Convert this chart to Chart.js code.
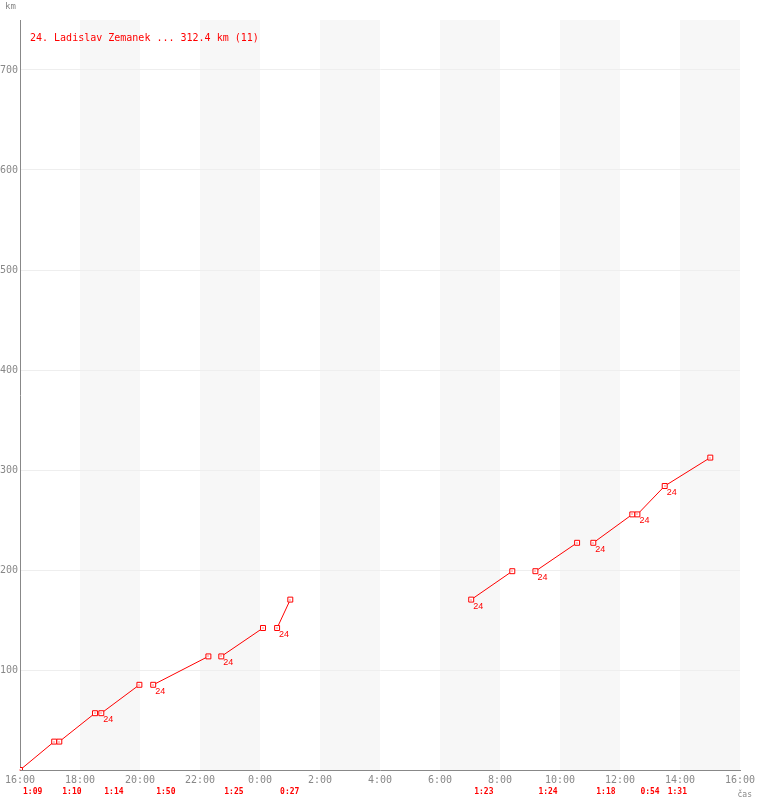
<!DOCTYPE html>
<html lang="cs">
<head>
    <meta charset="UTF-8">
    <title>24. Ladislav Zemanek</title>
    <script src="https://cdn.jsdelivr.net/npm/chart.js"></script>
    <style>
        body {
            margin: 0;
            padding: 0;
            background: #fff;
        }
        canvas {
            display: block;
        }
    </style>
</head>
<body>
    <canvas id="lapChart" width="760" height="800"></canvas>

    <script>
        // hodiny od startu (16:00)
        const lapStart = [0, 1.31, 2.71, 4.44, 6.71, 8.57, 15.04, 17.18, 19.11, 20.58, 21.49];
        const lapEnd   = [1.14, 2.5, 3.98, 6.28, 8.1, 9.01, 16.41, 18.57, 20.41, 21.49, 23.01];
        const kmStart  = [0, 28.4, 56.8, 85.2, 113.6, 142.0, 170.4, 198.8, 227.2, 255.6, 284.0];
        const kmEnd    = [28.4, 56.8, 85.2, 113.6, 142.0, 170.4, 198.8, 227.2, 255.6, 284.0, 312.4];
        const lapTimes = ['1:09', '1:10', '1:14', '1:50', '1:25', '0:27', '1:23', '1:24', '1:18', '0:54', '1:31'];
        const showNumber = [false, false, true, true, true, true, true, true, true, true, true];
        const riderNo = '24';
        const title = '24. Ladislav Zemanek ... 312.4 km (11)';

        const xTicks = [0, 2, 4, 6, 8, 10, 12, 14, 16, 18, 20, 22, 24];
        const xTickLabels = ['16:00', '18:00', '20:00', '22:00', '0:00', '2:00', '4:00', '6:00', '8:00', '10:00', '12:00', '14:00', '16:00'];
        const yTicks = [100, 200, 300, 400, 500, 600, 700];

        const RED = '#ff0000';
        const GRAY = '#888888';

        // body pro caru, mezi useky null (prerusena cara)
        const points = [];
        const labelIdx = [];
        for (let i = 0; i < lapStart.length; i++) {
            const prev = points[points.length - 1];
            if (!(prev && prev.x === lapStart[i] && prev.y === kmStart[i])) {
                if (prev) points.push({ x: lapStart[i], y: null });
                points.push({ x: lapStart[i], y: kmStart[i] });
            }
            if (showNumber[i]) labelIdx.push(points.length - 1);
            points.push({ x: lapEnd[i], y: kmEnd[i] });
        }

        const extras = {
            id: 'extras',
            beforeDraw(chart) {
                const { ctx, chartArea, scales: { x } } = chart;
                ctx.save();
                ctx.fillStyle = '#f7f7f7';
                for (let i = 1; i < xTicks.length - 1; i += 2) {
                    const a = x.getPixelForValue(xTicks[i]);
                    const b = x.getPixelForValue(xTicks[i + 1]);
                    ctx.fillRect(a, chartArea.top, b - a, chartArea.bottom - chartArea.top);
                }
                ctx.restore();
            },
            afterDatasetsDraw(chart) {
                const { ctx, scales: { x } } = chart;
                const meta = chart.getDatasetMeta(0);
                ctx.save();

                // tecka uprostred znacky
                ctx.fillStyle = RED;
                meta.data.forEach((pt, i) => {
                    if (points[i].y === null) return;
                    ctx.fillRect(Math.round(pt.x) - 0.5, Math.round(pt.y) - 0.5, 1, 1);
                });

                // cislo jezdce
                ctx.font = '9px "Liberation Sans", sans-serif';
                ctx.textAlign = 'left';
                ctx.textBaseline = 'top';
                labelIdx.forEach(i => {
                    const pt = meta.data[i];
                    ctx.fillText(riderNo, pt.x + 2, pt.y + 2);
                });

                // titulek
                ctx.font = '10px "DejaVu Sans Mono", monospace';
                ctx.textBaseline = 'middle';
                ctx.fillText(title, 30, 38);

                // casy kol
                ctx.font = 'bold 8px "DejaVu Sans Mono", monospace';
                lapStart.forEach((t, i) => {
                    ctx.fillText(lapTimes[i], x.getPixelForValue(t) + 3, 792);
                });

                // popisky os
                ctx.fillStyle = GRAY;
                ctx.font = '9px "DejaVu Sans Mono", monospace';
                ctx.textBaseline = 'top';
                ctx.fillText('km', 5, 2);
                ctx.font = '8px "DejaVu Sans Mono", monospace';
                ctx.textAlign = 'right';
                ctx.textBaseline = 'middle';
                ctx.fillText('čas', 752, 795);
                ctx.restore();
            }
        };

        new Chart(document.getElementById('lapChart'), {
            type: 'line',
            data: {
                datasets: [{
                    data: points,
                    borderColor: RED,
                    borderWidth: 1,
                    backgroundColor: '#ffffff',
                    pointStyle: 'rect',
                    pointRadius: 3.5,
                    pointBorderWidth: 1,
                    pointBorderColor: RED,
                    pointBackgroundColor: '#ffffff',
                    spanGaps: false,
                    tension: 0
                }]
            },
            options: {
                responsive: false,
                animation: false,
                layout: { padding: { top: 20, right: 20, left: 0, bottom: 0 } },
                plugins: {
                    legend: { display: false },
                    tooltip: { enabled: false }
                },
                scales: {
                    x: {
                        type: 'linear',
                        min: 0,
                        max: 24,
                        afterBuildTicks: s => { s.ticks = xTicks.map(v => ({ value: v })); },
                        afterFit: s => { s.height = 30; },
                        grid: { display: false, drawTicks: false },
                        border: { display: true, color: GRAY, width: 1 },
                        ticks: {
                            padding: 4,
                            maxRotation: 0,
                            autoSkip: false,
                            color: GRAY,
                            font: { family: '"DejaVu Sans Mono", monospace', size: 10 },
                            callback: (v, i) => xTickLabels[i]
                        }
                    },
                    y: {
                        type: 'linear',
                        min: 0,
                        max: 750,
                        afterBuildTicks: s => { s.ticks = yTicks.map(v => ({ value: v })); },
                        afterFit: s => { s.width = 20; },
                        grid: { color: '#eeeeee', drawTicks: false, lineWidth: 1 },
                        border: { display: true, color: GRAY, width: 1 },
                        ticks: {
                            padding: 2,
                            color: GRAY,
                            font: { family: '"DejaVu Sans Mono", monospace', size: 10 },
                            callback: v => String(v)
                        }
                    }
                }
            },
            plugins: [extras]
        });
    </script>
</body>
</html>
